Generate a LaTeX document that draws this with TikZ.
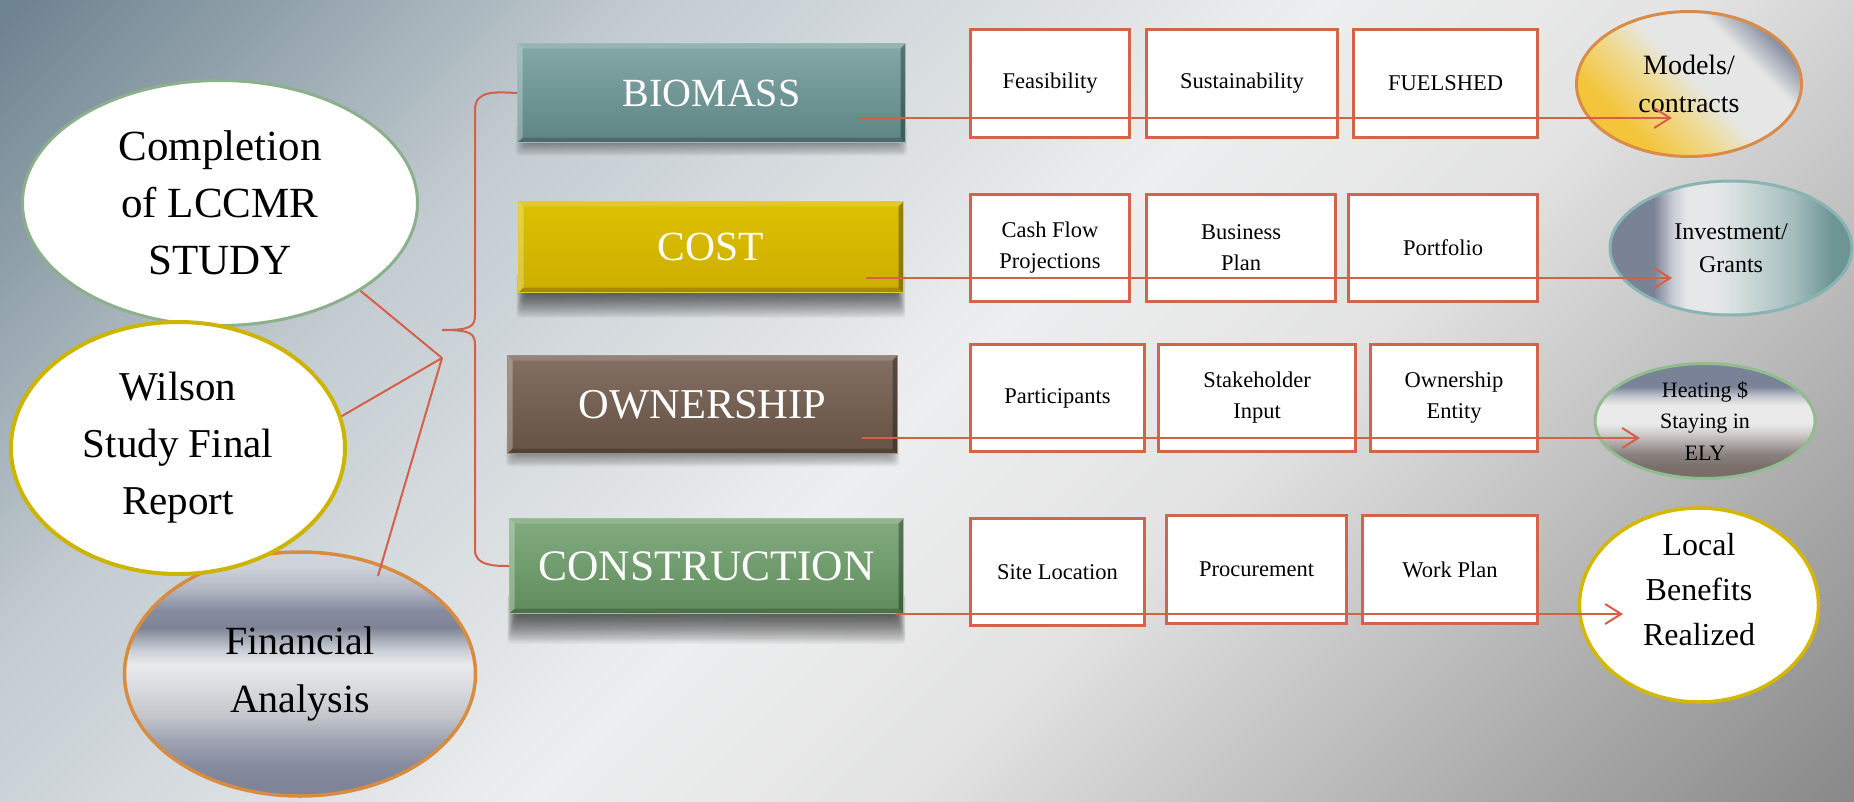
\documentclass[tikz,border=0pt]{standalone}
\usepackage{fontspec}
\setmainfont{Liberation Serif}
\usetikzlibrary{shapes.geometric,arrows.meta}

\definecolor{redl}{HTML}{D4604A}
\definecolor{boxred}{HTML}{D2644C}
\definecolor{bgA}{HTML}{6E8390}
\definecolor{bgB}{HTML}{C3CCD1}
\definecolor{bgC}{HTML}{EDEEEF}
\definecolor{bgD}{HTML}{E3E3E3}
\definecolor{bgE}{HTML}{C6C6C6}
\definecolor{bgF}{HTML}{8A8A8A}
\definecolor{compg}{HTML}{8CB08C}
\definecolor{wily}{HTML}{CCB400}
\definecolor{finor}{HTML}{D88C40}
\definecolor{fA}{HTML}{7E8496}
\definecolor{fB}{HTML}{868CA0}
\definecolor{fC}{HTML}{A0A4B2}
\definecolor{fD}{HTML}{C4C6CC}
\definecolor{fE}{HTML}{D8DADE}
\definecolor{fF}{HTML}{EAEAEC}
\definecolor{fG}{HTML}{C8CCD4}
\definecolor{fH}{HTML}{B4B8C4}
\definecolor{fI}{HTML}{D0D4DA}
\definecolor{fJ}{HTML}{DADDE2}
\definecolor{mY}{HTML}{F4C53A}
\definecolor{mYl}{HTML}{EEDC9A}
\definecolor{mL}{HTML}{E6E6E6}
\definecolor{mB}{HTML}{7E869A}
\definecolor{iB}{HTML}{7A8296}
\definecolor{iC}{HTML}{C8CCD4}
\definecolor{iW}{HTML}{E6E7E9}
\definecolor{iL}{HTML}{D2DCDC}
\definecolor{iM}{HTML}{A4BCBC}
\definecolor{iT}{HTML}{6E9494}
\definecolor{hBr}{HTML}{7A6E6A}
\definecolor{hBr2}{HTML}{8C8482}
\definecolor{hL}{HTML}{D4D0CE}
\definecolor{hW}{HTML}{EAEAEA}
\definecolor{hG}{HTML}{C0C4CC}
\definecolor{hB}{HTML}{7A8298}
\definecolor{modor}{HTML}{D88C48}
\definecolor{invt}{HTML}{88B4B4}
\definecolor{heatg}{HTML}{90BC90}
\definecolor{locy}{HTML}{D4B800}
\definecolor{bioT}{HTML}{84A8A8}
\definecolor{bioB}{HTML}{5E8484}
\definecolor{costT}{HTML}{DDC000}
\definecolor{costB}{HTML}{CCAE00}
\definecolor{ownT}{HTML}{836F63}
\definecolor{ownB}{HTML}{665244}
\definecolor{conT}{HTML}{82AC80}
\definecolor{conB}{HTML}{5F8C5C}

\pgfdeclarehorizontalshading{bgshade}{100bp}{color(0bp)=(bgA); color(15bp)=(bgA); color(32bp)=(bgB); color(50bp)=(bgC); color(60bp)=(bgD); color(68bp)=(bgE); color(85bp)=(bgF); color(100bp)=(bgF)}
\pgfdeclareverticalshading{finshade}{100bp}{color(0bp)=(fA); color(27bp)=(fA); color(31.5bp)=(fB); color(36.5bp)=(fC); color(41.5bp)=(fD); color(47bp)=(fE); color(52bp)=(fF); color(55bp)=(fG); color(59.5bp)=(fA); color(63bp)=(fB); color(67.5bp)=(fH); color(72.5bp)=(fI); color(100bp)=(fJ)}
\pgfdeclarehorizontalshading{modshade}{100bp}{color(0bp)=(mY); color(30bp)=(mY); color(44bp)=(mYl); color(52bp)=(mL); color(66bp)=(mL); color(76bp)=(mB); color(100bp)=(mB)}
\pgfdeclarehorizontalshading{invshade}{100bp}{color(0bp)=(iB); color(34bp)=(iB); color(38bp)=(iC); color(41bp)=(iW); color(47bp)=(iW); color(52bp)=(iL); color(63bp)=(iM); color(71bp)=(iT); color(100bp)=(iT)}
\pgfdeclareverticalshading{heatshade}{100bp}{color(0bp)=(hBr); color(30bp)=(hBr); color(36bp)=(hBr2); color(45bp)=(hL); color(49bp)=(hW); color(57bp)=(hW); color(61bp)=(hG); color(65bp)=(hB); color(100bp)=(hB)}

\newcommand\mybevel{%
  \fill[white,opacity=.28] (path picture bounding box.north west) -- (path picture bounding box.south west) -- ([shift={(5pt,5pt)}]path picture bounding box.south west) -- ([shift={(5pt,-5pt)}]path picture bounding box.north west) -- cycle;
  \fill[white,opacity=.15] (path picture bounding box.north west) -- (path picture bounding box.north east) -- ([shift={(-5pt,-5pt)}]path picture bounding box.north east) -- ([shift={(5pt,-5pt)}]path picture bounding box.north west) -- cycle;
  \fill[black,opacity=.32] (path picture bounding box.north east) -- (path picture bounding box.south east) -- ([shift={(-5pt,5pt)}]path picture bounding box.south east) -- ([shift={(-5pt,-5pt)}]path picture bounding box.north east) -- cycle;
  \fill[black,opacity=.2] (path picture bounding box.south west) -- (path picture bounding box.south east) -- ([shift={(-5pt,5pt)}]path picture bounding box.south east) -- ([shift={(5pt,5pt)}]path picture bounding box.south west) -- cycle;
}
% soft shadow under a box: x1, x2, bottom y, opacity per layer, extent
\newcommand\boxshadow[5]{%
  \foreach \e in {0,...,24}{%
    \fill[black, opacity=#4, rounded corners=4pt] (#1+8-0.4*\e, #3-20) rectangle (#2-8+0.4*\e, #3+#5*\e/24);
  }}

\begin{document}
\begin{tikzpicture}[x=1pt,y=-1pt,
  redline/.style={draw=redl, line width=2pt},
  arr/.style={redline, -{Straight Barb[length=16pt,width=20pt]}},
  catbox/.style 2 args={rectangle, top color=#1, bottom color=#2, draw=#1!80!white, line width=1pt,
    text=white, font=\fontsize{40}{44}\selectfont, inner sep=0pt,
    path picture={\mybevel}},
  wbox/.style={rectangle, draw=boxred, line width=3.5pt, fill=white, inner sep=0pt,
    font=\fontsize{22.5}{31}\selectfont, align=center, text=black},
  bigell/.style={ellipse, inner sep=0pt, align=center, text=black, font=\fontsize{41}{57}\selectfont},
  smell/.style={ellipse, inner sep=0pt, align=center, text=black}
]
\useasboundingbox (0,0) rectangle (1854,801);
\shade[shading=bgshade, shading angle=-45] (0,0) rectangle (1854,801);

% left ellipses
\node[bigell, draw=compg, line width=3pt, fill=white, minimum width=395pt, minimum height=245pt, font=\fontsize{43}{57}\selectfont] (comp) at (220,203) {Completion\\of LCCMR\\STUDY};
\node[bigell, draw=finor, line width=3.5pt, shade, shading=finshade, minimum width=351pt, minimum height=244pt, font=\fontsize{40}{58}\selectfont] (fin) at (300,674) {Financial\\Analysis};
\node[bigell, draw=wily, line width=4pt, fill=white, minimum width=334pt, minimum height=252pt] (wil) at (178,448) {Wilson\\Study Final\\Report};

% shadows of the category boxes
\boxshadow{517}{906}{143}{0.016}{13}
\boxshadow{518}{904}{292}{0.032}{26}
\boxshadow{507}{898}{454}{0.016}{13}
\boxshadow{509}{904}{613}{0.034}{31}

% category boxes
\node[catbox={bioT}{bioB}, minimum width=388pt, minimum height=99pt] (bio) at (711.5,93) {BIOMASS};
\node[catbox={costT}{costB}, minimum width=385pt, minimum height=91pt, font=\fontsize{41.5}{44}\selectfont] (cost) at (711,247) {COST};
\node[catbox={ownT}{ownB}, minimum width=390pt, minimum height=98pt, font=\fontsize{42.5}{44}\selectfont] (own) at (702.5,404.5) {OWNERSHIP};
\node[catbox={conT}{conB}, minimum width=394pt, minimum height=95pt, font=\fontsize{43.5}{44}\selectfont] (con) at (706.5,566) {CONSTRUCTION};

% hub and brace
\coordinate (hub) at (442,358);
\coordinate (tip) at (442,330);
\coordinate (finend) at (378,576);
\draw[redline] (comp.-32) -- (hub);
\draw[redline] (wil.11) -- (hub);
\draw[redline] (finend) -- (hub);
\draw[redline] (bio.west) .. controls (495,92) and (475,90) .. (475,110) -- (475,315) .. controls (475,327) and (470,330) .. (tip);
\draw[redline] (tip) .. controls (470,330) and (475,333) .. (475,345) -- (475,550) .. controls (475,566) and (495,566) .. (con.west);

% white boxes
\node[wbox, minimum width=159pt, minimum height=108pt] (fea) at (1050,83.5) {Feasibility};
\node[wbox, minimum width=191pt, minimum height=108pt] (sus) at (1242,83.5) {Sustainability};
\node[wbox, minimum width=184pt, minimum height=108pt] (fuel) at (1445.5,83.5) {FUELSHED};
\node[wbox, minimum width=159pt, minimum height=107pt] (cash) at (1050,248) {Cash Flow\\Projections};
\node[wbox, minimum width=189pt, minimum height=107pt] (bus) at (1241,248) {Business\\Plan};
\node[wbox, minimum width=189pt, minimum height=107pt] (port) at (1443,248) {Portfolio};
\node[wbox, minimum width=174pt, minimum height=107pt] (part) at (1057.5,398) {Participants};
\node[wbox, minimum width=197pt, minimum height=107pt] (stake) at (1257,398) {Stakeholder\\Input};
\node[wbox, minimum width=167pt, minimum height=107pt] (oent) at (1454,398) {Ownership\\Entity};
\node[wbox, minimum width=174pt, minimum height=107pt] (site) at (1057.5,572) {Site Location};
\node[wbox, minimum width=180pt, minimum height=108pt] (proc) at (1256.5,569.5) {Procurement};
\node[wbox, minimum width=175pt, minimum height=108pt] (work) at (1450,569.5) {Work Plan};

% right ellipses
\node[smell, draw=modor, line width=3pt, shade, shading=modshade, shading angle=45, minimum width=225pt, minimum height=145pt, font=\fontsize{28}{38}\selectfont] (mod) at (1689,84) {Models/\\contracts};
\node[smell, draw=invt, line width=3pt, shade, shading=invshade, minimum width=242pt, minimum height=134pt, font=\fontsize{24}{33}\selectfont] (inv) at (1731,248) {Investment/\\Grants};
\node[smell, draw=heatg, line width=3pt, shade, shading=heatshade, minimum width=220pt, minimum height=115pt, font=\fontsize{22}{31.5}\selectfont] (heat) at (1705,421) {Heating \$\\Staying in\\ELY};
\node[smell, draw=locy, line width=3.5pt, fill=white, minimum width=239pt, minimum height=194pt] (loc) at (1699,605) {};
\node[smell, font=\fontsize{32}{45}\selectfont] (loctxt) at (1699,590) {Local\\Benefits\\Realized};

% connectors
\coordinate (s1) at (858,118);  \coordinate (e1) at (1672,118);
\coordinate (s2) at (866,278);  \coordinate (e2) at (1672,278);
\coordinate (s3) at (862,438);  \coordinate (e3) at (1640,438);
\coordinate (s4) at (896,614);  \coordinate (e4) at (1623,614);
\draw[arr] (s1) -- (e1);
\draw[arr] (s2) -- (e2);
\draw[arr] (s3) -- (e3);
\draw[arr] (s4) -- (e4);
\end{tikzpicture}
\end{document}
